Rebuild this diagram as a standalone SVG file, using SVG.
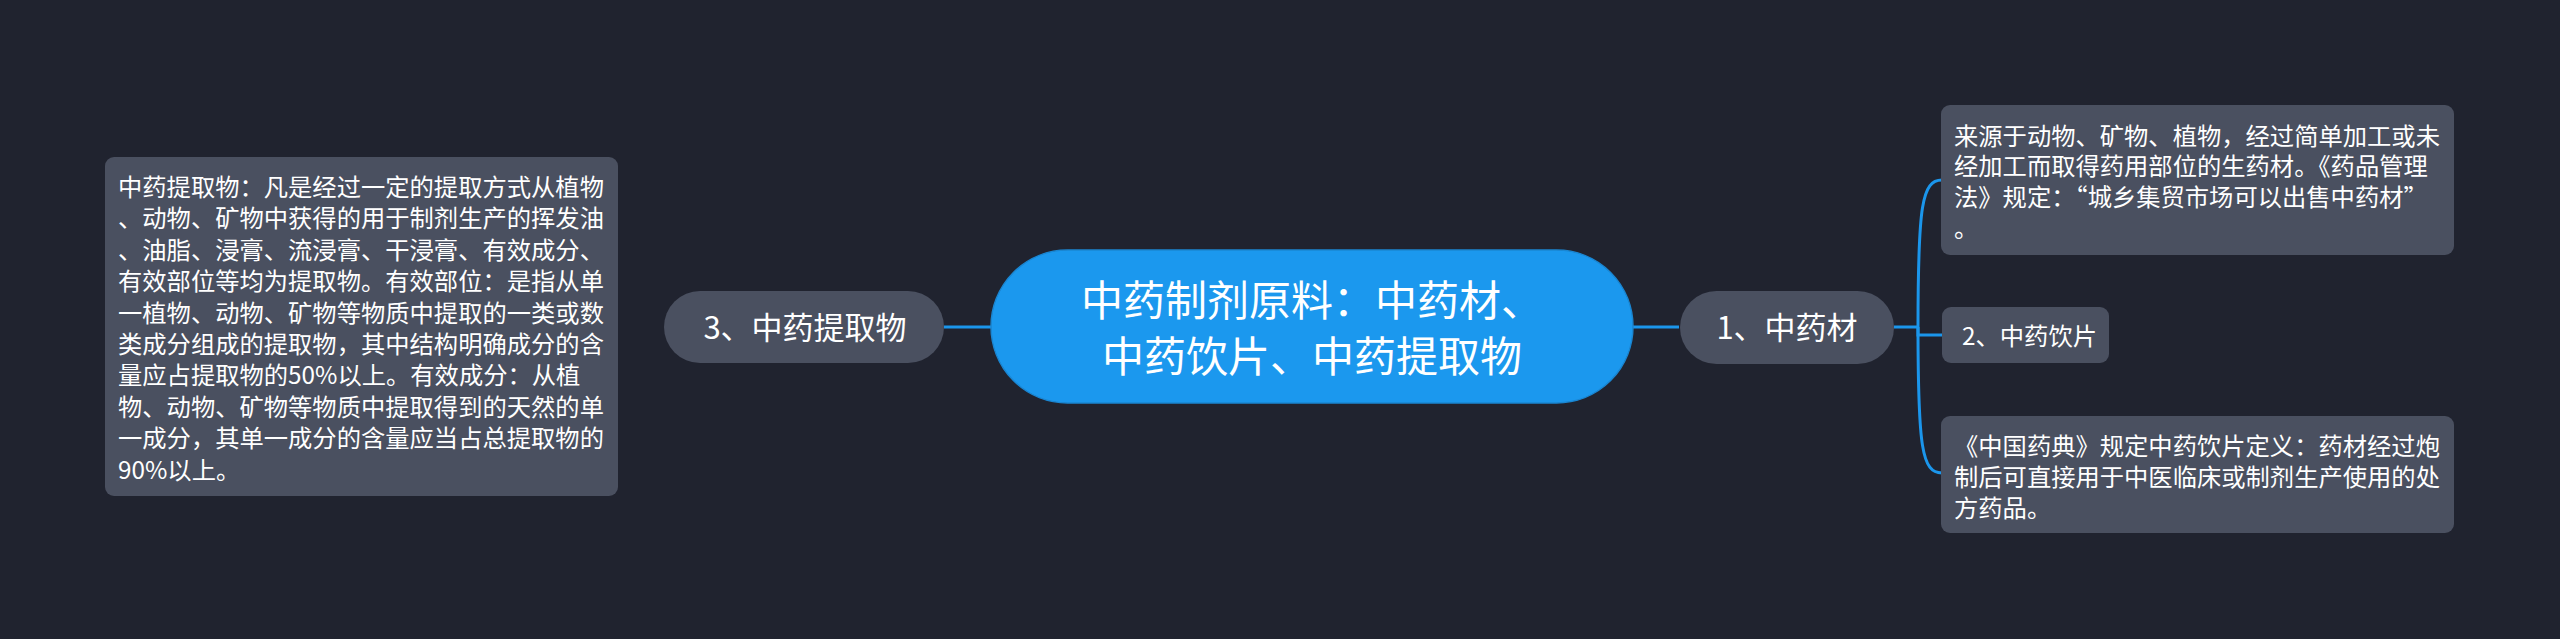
<svg xmlns="http://www.w3.org/2000/svg" width="2560" height="639" viewBox="0 0 2560 639">
<style>
.bg{fill:#20232f}
.link{fill:none;stroke:#1b96ec;stroke-width:3}
.root rect{fill:#1b98ee;stroke:#1a86d2;stroke-width:1.5}
.root text{fill:#ffffff;font-family:"Noto Sans CJK SC","Noto Sans",sans-serif;font-size:42px;text-anchor:middle}
.main rect{fill:#4a5060}
.main text{fill:#ffffff;font-family:"Noto Sans CJK SC","Noto Sans",sans-serif;font-size:31px;text-anchor:middle}
.leaf rect{fill:#4a5060}
.leaf text{fill:#ffffff;font-family:"Noto Sans CJK SC","Noto Sans",sans-serif;font-size:24.3px}
</style>
<rect class="bg" x="0" y="0" width="2560" height="639"/>
<g id="connectors">
<path class="link" d="M944,327 L991,327"/>
<path class="link" d="M1633,327 L1679,327"/>
<path class="link" d="M1894,327 L1918,327"/>
<path class="link" d="M1918,327 C1918,205 1922,180 1942,180"/>
<path class="link" d="M1918,327 C1918,448 1922,473 1942,473"/>
<path class="link" d="M1918,327 L1918,335 L1942,335"/>
</g>
<g id="root" class="root">
<rect x="991" y="250" width="642" height="153" rx="76.5"/>
<text x="1312" y="316">中药制剂原料：中药材、</text>
<text x="1312" y="372">中药饮片、中药提取物</text>
</g>
<g id="n3" class="main">
<rect x="664" y="291" width="280" height="72" rx="36"/>
<text x="805" y="339">3、中药提取物</text>
</g>
<g id="n1" class="main">
<rect x="1680" y="291" width="214" height="73" rx="36.5"/>
<text x="1787" y="339">1、中药材</text>
</g>
<g id="leaf-extract" class="leaf">
<rect x="105" y="157" width="513" height="339" rx="9"/>
<text x="118" y="196">中药提取物：凡是经过一定的提取方式从植物</text>
<text x="118" y="227.4">、动物、矿物中获得的用于制剂生产的挥发油</text>
<text x="118" y="258.8">、油脂、浸膏、流浸膏、干浸膏、有效成分、</text>
<text x="118" y="290.2">有效部位等均为提取物。有效部位：是指从单</text>
<text x="118" y="321.6">一植物、动物、矿物等物质中提取的一类或数</text>
<text x="118" y="353">类成分组成的提取物，其中结构明确成分的含</text>
<text x="118" y="384.4">量应占提取物的50%以上。有效成分：从植</text>
<text x="118" y="415.8">物、动物、矿物等物质中提取得到的天然的单</text>
<text x="118" y="447.2">一成分，其单一成分的含量应当占总提取物的</text>
<text x="118" y="478.6">90%以上。</text>
</g>
<g id="leaf-source" class="leaf">
<rect x="1941" y="105" width="513" height="150" rx="9"/>
<text x="1954" y="144.5">来源于动物、矿物、植物，经过简单加工或未</text>
<text x="1954" y="175.3">经加工而取得药用部位的生药材。《药品管理</text>
<text x="1954" y="206">法》规定：“城乡集贸市场可以出售中药材”</text>
<text x="1954" y="236.8">。</text>
</g>
<g id="leaf-pieces" class="leaf">
<rect x="1942" y="307" width="167" height="56" rx="9"/>
<text x="1962" y="345">2、中药饮片</text>
</g>
<g id="leaf-definition" class="leaf">
<rect x="1941" y="416" width="513" height="117" rx="9"/>
<text x="1954" y="454.6">《中国药典》规定中药饮片定义：药材经过炮</text>
<text x="1954" y="485.6">制后可直接用于中医临床或制剂生产使用的处</text>
<text x="1954" y="516.6">方药品。</text>
</g>
</svg>
